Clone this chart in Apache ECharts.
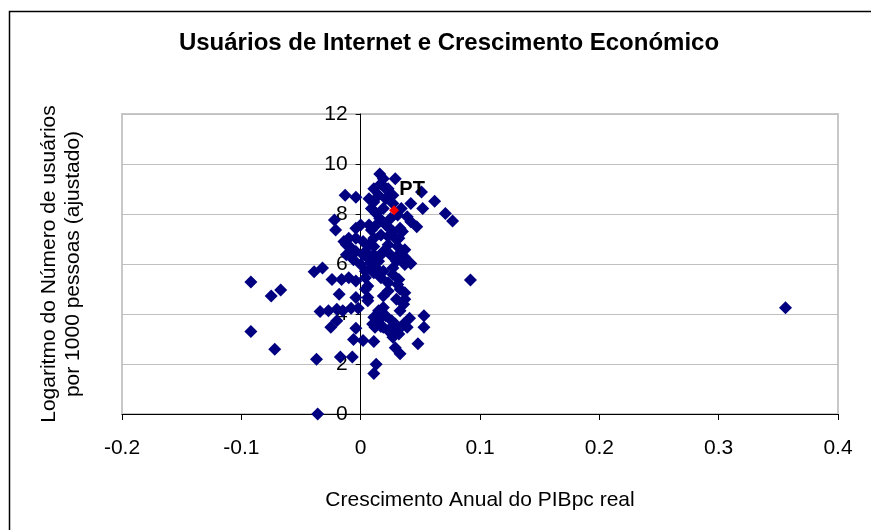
<!DOCTYPE html>
<html>
<head>
<meta charset="utf-8">
<script src="https://cdn.jsdelivr.net/npm/echarts@6/dist/echarts.min.js"></script>
<style>
html, body { margin: 0; padding: 0; background: #fff; }
#chart { width: 871px; height: 530px; }
</style>
</head>
<body>
<div id="chart"></div>
<script>
// crescimento anual do PIBpc real
var growth = [
  -0.092, -0.092, -0.075, -0.067, -0.072, -0.037, -0.036, -0.039, -0.032, 0.092,
  0.356, -0.017, -0.007, 0.011, 0.013, 0.048, 0.033, 0.029, 0.053, 0.053,
  0.011, -0.006, 0.002, -0.004, -0.025, -0.020, -0.034, -0.027, -0.015, -0.008,
  -0.002, -0.018, -0.024, -0.016, -0.010, -0.004, 0.004, 0.006, 0.006, 0.019,
  0.023, 0.031, 0.037, 0.032, 0.027, 0.019, 0.017, 0.033, 0.036, 0.016,
  0.012, 0.017, 0.026, 0.031, 0.036, 0.039, 0.027, 0.023, 0.041, 0.042,
  0.037, 0.033, 0.030, 0.027, 0.037, 0.032, 0.027, 0.033, 0.021, 0.017,
  0.011, 0.007, 0.004, 0.006, 0.011, 0.015, 0.019, 0.023, 0.009, 0.004,
  0.011, 0.000, -0.004, -0.008, -0.014, -0.010, -0.004, 0.000, 0.007, -0.021,
  -0.022, -0.013, -0.004, 0.011, 0.009, 0.013, 0.019, 0.015, 0.021, 0.017,
  0.016, 0.019, 0.029, 0.023, 0.027, 0.034, 0.042, 0.051, 0.052, 0.062,
  0.071, 0.077, 0.042, 0.047, 0.039, 0.025, 0.031, 0.029, 0.023, 0.025,
  0.031, 0.017, 0.023, 0.006, 0.004, 0.037, -0.004, 0.002, 0.011, -0.012,
  -0.012, -0.006, 0.002, 0.017, 0.008, 0.013, 0.019, 0.009, 0.013, 0.016,
  0.023, 0.007, 0.011, 0.021, 0.027, 0.035, 0.015, 0.010, 0.019, 0.029,
  0.026, 0.021, 0.032, 0.011, -0.004, -0.020, 0.037, 0.030, 0.033
];
// logaritmo do número de usuários por 1000 pessoas (ajustado)
var usersLog = [
  5.28, 3.30, 4.72, 4.96, 2.59, 2.19, 0.00, 5.69, 5.84, 5.36,
  4.25, 2.28, 2.28, 1.62, 1.99, 2.81, 2.41, 2.65, 3.47, 3.93,
  2.90, 2.98, 2.94, 3.43, 3.47, 3.73, 4.10, 4.13, 4.13, 4.23,
  4.23, 4.79, 5.38, 5.38, 5.45, 5.32, 5.45, 4.66, 4.53, 4.72,
  4.92, 5.18, 4.85, 5.38, 5.58, 4.26, 4.13, 4.13, 4.39, 3.80,
  3.47, 3.50, 3.47, 3.34, 3.60, 3.47, 3.07, 3.34, 3.83, 6.02,
  6.27, 6.44, 6.11, 5.84, 6.57, 7.03, 7.30, 7.43, 7.56, 7.16,
  7.03, 6.77, 6.50, 6.24, 6.37, 6.11, 6.50, 6.77, 5.84, 5.71,
  5.65, 5.98, 6.50, 6.64, 6.90, 7.03, 7.43, 7.56, 7.56, 7.36,
  7.76, 8.75, 8.67, 8.48, 8.22, 8.02, 8.22, 8.75, 8.61, 9.21,
  9.60, 9.41, 9.41, 9.01, 8.75, 8.22, 8.42, 8.88, 8.22, 8.51,
  8.02, 7.72, 7.69, 7.49, 7.89, 7.82, 7.96, 7.03, 7.10, 6.37,
  6.70, 5.45, 5.25, 5.12, 4.99, 5.98, 7.03, 6.90, 6.70, 6.77,
  6.37, 6.17, 6.37, 6.37, 6.04, 5.84, 5.71, 7.36, 7.56, 7.82,
  7.49, 8.61, 9.01, 9.01, 8.42, 7.30, 4.13, 3.60, 3.47, 3.60,
  3.73, 3.93, 3.20, 3.87, 4.66, 4.19, 4.59, 4.59, 4.99
];
// Portugal
var ptName = 'PT';
var ptPoint = [0.028, 8.15];

var xTicks = [-0.2, 0.4, 0.1];
var yTicks = [0, 12, 2];

var pts = growth.map(function (g, i) { return [g, usersLog[i]]; });

var chart = echarts.init(document.getElementById('chart'));
var fnt = '"Liberation Sans", Arial, sans-serif';

var gridLeft = 122, gridRight = 33;
var plotW = 871 - gridLeft - gridRight;
// the y axis crosses the x axis at zero
var yAxisShift = plotW * (0 - xTicks[0]) / (xTicks[1] - xTicks[0]);

var option = {
  backgroundColor: '#ffffff',
  animation: false,
  title: {
    text: 'Usuários de Internet e Crescimento Económico',
    left: 444,
    textAlign: 'center',
    top: 26,
    textStyle: { fontFamily: fnt, fontSize: 24, fontWeight: 'bold', color: '#000' }
  },
  grid: {
    left: gridLeft, right: gridRight, top: 114, bottom: 116,
    show: true, borderColor: '#c8c8c8', borderWidth: 2, backgroundColor: '#fff'
  },
  xAxis: {
    type: 'value',
    min: xTicks[0], max: xTicks[1], interval: xTicks[2],
    name: 'Crescimento Anual do PIBpc real',
    nameLocation: 'middle',
    nameGap: 76,
    nameTextStyle: { fontFamily: fnt, fontSize: 21, color: '#000' },
    axisLine: { onZero: true, lineStyle: { color: '#000', width: 1 } },
    axisTick: { show: true, length: 6, lineStyle: { color: '#000' } },
    axisLabel: {
      fontFamily: fnt, fontSize: 21, color: '#000', margin: 24,
      formatter: function (v) { return String(Math.round(v * 10) / 10); }
    },
    splitLine: { show: false }
  },
  yAxis: {
    type: 'value',
    min: yTicks[0], max: yTicks[1], interval: yTicks[2],
    offset: -yAxisShift,
    axisLine: { show: true, onZero: false, lineStyle: { color: '#000', width: 1 } },
    axisTick: { show: true, length: 5, lineStyle: { color: '#000' } },
    axisLabel: { fontFamily: fnt, fontSize: 21, color: '#000', margin: 13 },
    splitLine: { show: true, lineStyle: { color: '#c0c0c0', width: 1 } }
  },
  graphic: [
    {
      type: 'rect', left: 7, top: 9, z: -10, silent: true,
      shape: { width: 880, height: 540 },
      style: { fill: 'none', stroke: '#000', lineWidth: 1.5 }
    },
    {
      type: 'text', x: 61, y: 264, rotation: Math.PI / 2, silent: true,
      style: {
        text: 'Logaritmo do Número de usuários\npor 1000 pessoas (ajustado)',
        font: '21px ' + fnt, fill: '#000',
        align: 'center', verticalAlign: 'middle', lineHeight: 24
      }
    }
  ],
  series: [
    {
      type: 'scatter',
      data: pts,
      symbol: 'diamond',
      symbolSize: 13,
      itemStyle: { color: '#000080', opacity: 1 }
    },
    {
      type: 'scatter',
      data: [ptPoint],
      symbol: 'diamond',
      symbolSize: 10,
      itemStyle: { color: '#ff0000', opacity: 1 },
      label: {
        show: true, position: 'inside', offset: [18, -21],
        formatter: ptName,
        fontFamily: fnt, fontSize: 20, fontWeight: 'bold', color: '#000'
      }
    }
  ]
};

chart.setOption(option);
</script>
</body>
</html>
